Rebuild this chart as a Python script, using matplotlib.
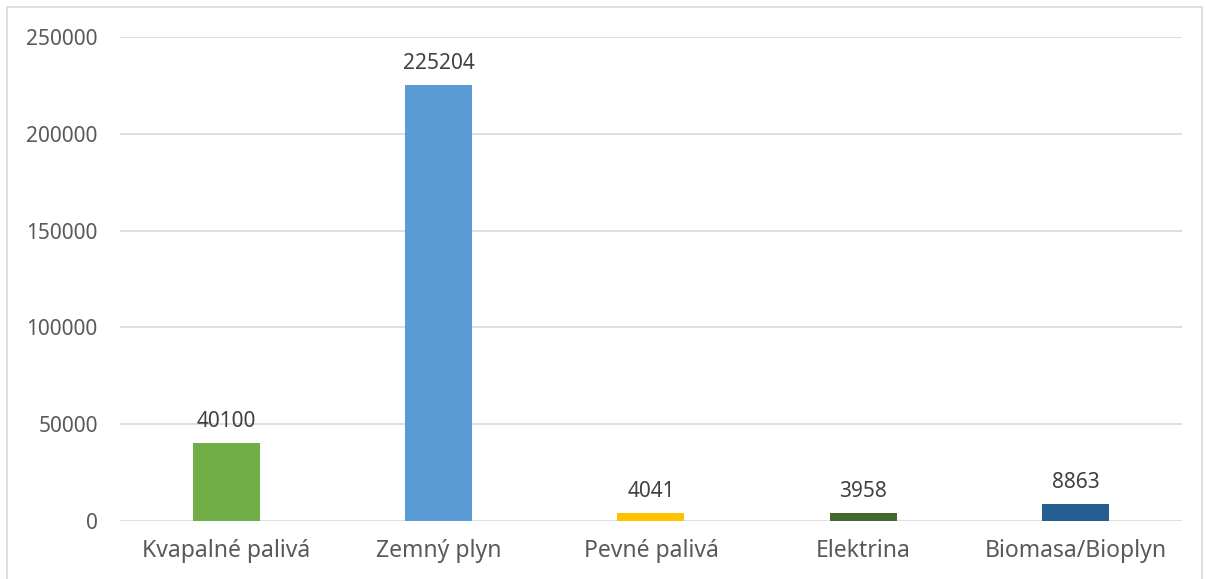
import matplotlib.pyplot as plt
from matplotlib.patches import Rectangle

categories = ["Kvapalné palivá", "Zemný plyn", "Pevné palivá", "Elektrina", "Biomasa/Bioplyn"]
values = [40100, 225204, 4041, 3958, 8863]
colors = ["#70AD47", "#5B9BD5", "#FFC000", "#43682B", "#255E91"]
yticks = [0, 50000, 100000, 150000, 200000, 250000]

plt.rcParams['font.family'] = ['Noto Sans', 'DejaVu Sans']

fig = plt.figure(figsize=(12.06, 5.79), dpi=100)
ax = fig.add_axes([0.0995, 0.1002, 0.8805, 0.8358])

x = range(len(categories))
bars = ax.bar(x, values, width=0.315, color=colors, zorder=3)

for b, v in zip(bars, values):
    ax.annotate(str(v), (b.get_x() + b.get_width() / 2, v), xytext=(0, 8),
                textcoords="offset points", ha="center", va="bottom",
                fontsize=15, color="#404040")

ax.set_xlim(-0.5, len(categories) - 0.5)
ax.set_ylim(0, 250000)
ax.set_yticks(yticks)
ax.set_yticklabels([str(t) for t in yticks])
ax.set_xticks(list(x))
ax.set_xticklabels(categories)
ax.tick_params(axis="both", length=0, labelcolor="#595959")
ax.tick_params(axis="y", pad=16, labelsize=15)
ax.tick_params(axis="x", pad=13, labelsize=16.5)
ax.grid(axis="y", color="#D9D9D9", linewidth=1.2, zorder=0)
for s in ax.spines.values():
    s.set_visible(False)

# outer chart border
fig.patches.append(Rectangle((0.006, -0.05), 0.991, 1.038, transform=fig.transFigure,
                             fill=False, edgecolor="#D9D9D9", linewidth=1.2))

fig.savefig("out.png", dpi=100)
